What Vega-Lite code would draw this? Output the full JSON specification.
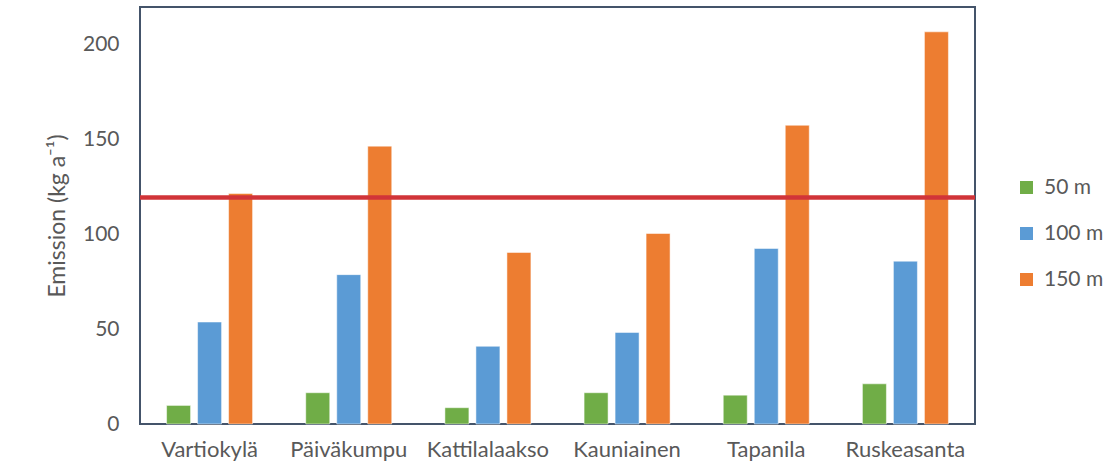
{
  "$schema": "https://vega.github.io/schema/vega-lite/v6.json",
  "autosize": "none",
  "width": 835,
  "height": 417,
  "padding": {"left": 140, "top": 7, "right": 137, "bottom": 44},
  "background": "white",
  "config": {
    "font": "Lato",
    "view": {"stroke": "#44546a", "strokeWidth": 2}
  },
  "layer": [
    {
      "data": {
        "values": [
          {"site": "Vartiokylä", "dist": "50 m", "value": 9.8},
          {"site": "Vartiokylä", "dist": "100 m", "value": 53.8},
          {"site": "Vartiokylä", "dist": "150 m", "value": 121.6},
          {"site": "Päiväkumpu", "dist": "50 m", "value": 16.5},
          {"site": "Päiväkumpu", "dist": "100 m", "value": 78.8},
          {"site": "Päiväkumpu", "dist": "150 m", "value": 146.6},
          {"site": "Kattilalaakso", "dist": "50 m", "value": 8.6},
          {"site": "Kattilalaakso", "dist": "100 m", "value": 41},
          {"site": "Kattilalaakso", "dist": "150 m", "value": 90.5},
          {"site": "Kauniainen", "dist": "50 m", "value": 16.5},
          {"site": "Kauniainen", "dist": "100 m", "value": 48.3},
          {"site": "Kauniainen", "dist": "150 m", "value": 100.5},
          {"site": "Tapanila", "dist": "50 m", "value": 15.2},
          {"site": "Tapanila", "dist": "100 m", "value": 92.6},
          {"site": "Tapanila", "dist": "150 m", "value": 157.6},
          {"site": "Ruskeasanta", "dist": "50 m", "value": 21.2},
          {"site": "Ruskeasanta", "dist": "100 m", "value": 85.9},
          {"site": "Ruskeasanta", "dist": "150 m", "value": 206.9}
        ]
      },
      "mark": {"type": "bar", "stroke": "white", "strokeOpacity": 0.5, "strokeWidth": 1},
      "encoding": {
        "x": {
          "field": "site",
          "type": "nominal",
          "sort": null,
          "scale": {"paddingInner": 0.382, "paddingOuter": 0.191},
          "axis": {
            "title": null,
            "labelAngle": 0,
            "labelFontSize": 22,
            "labelColor": "#595959",
            "labelPadding": 15,
            "ticks": false,
            "domain": false
          }
        },
        "xOffset": {
          "field": "dist",
          "type": "nominal",
          "scale": {"domain": ["50 m", "100 m", "150 m"], "paddingInner": 0.226, "paddingOuter": 0}
        },
        "y": {
          "field": "value",
          "type": "quantitative",
          "scale": {"domain": [0, 220], "nice": false},
          "axis": {
            "title": "Emission (kg a⁻¹)",
            "titleFontSize": 23,
            "titleFontWeight": "normal",
            "titleColor": "#595959",
            "titlePadding": 13,
            "values": [0, 50, 100, 150, 200],
            "labelFontSize": 21,
            "labelColor": "#595959",
            "labelPadding": 21,
            "ticks": false,
            "domain": false,
            "grid": false
          }
        },
        "color": {
          "field": "dist",
          "type": "nominal",
          "scale": {"domain": ["50 m", "100 m", "150 m"], "range": ["#70ad47", "#5b9bd5", "#ed7d31"]},
          "legend": {
            "title": null,
            "orient": "none",
            "legendX": 876,
            "legendY": 170,
            "symbolType": "square",
            "symbolSize": 169,
            "symbolStrokeWidth": 0,
            "labelFontSize": 21,
            "labelColor": "#595959",
            "labelOffset": 7,
            "rowPadding": 24
          }
        }
      }
    },
    {
      "data": {"values": [{"threshold": 119.5}]},
      "mark": {"type": "rule", "color": "#d13438", "strokeWidth": 4.5},
      "encoding": {
        "y": {"field": "threshold", "type": "quantitative"}
      }
    }
  ]
}
